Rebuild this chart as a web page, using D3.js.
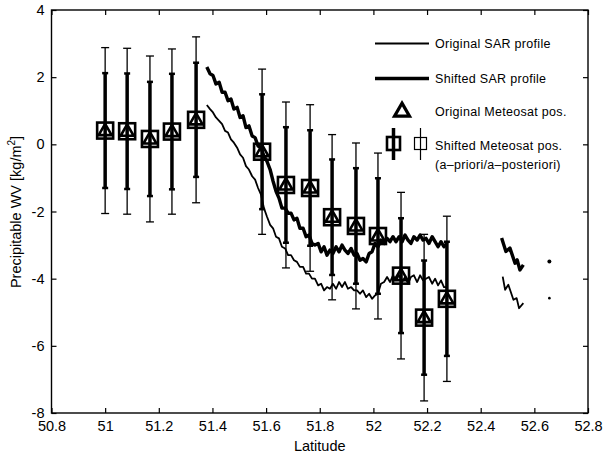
<!DOCTYPE html>
<html>
<head>
<meta charset="utf-8">
<script src="https://cdn.jsdelivr.net/npm/d3@7"></script>
<style>
  body { margin: 0; background: #fff; }
  svg { display: block; font-family: "Liberation Sans", Arial, sans-serif; }
</style>
</head>
<body>
<script>
// Meteosat positions with a-priori (thick) and a-posteriori (thin) error bars
const meteoLat = [51.0, 51.082, 51.167, 51.249, 51.339, 51.585, 51.674, 51.764, 51.846, 51.935, 52.017, 52.103, 52.189, 52.274];
const meteoValue = [0.41, 0.39, 0.16, 0.38, 0.73, -0.22, -1.21, -1.30, -2.17, -2.43, -2.73, -3.91, -5.16, -4.60];
const aPrioriErr = [1.71, 1.72, 1.70, 1.72, 1.70, 1.71, 1.72, 1.72, 1.72, 1.72, 1.72, 1.71, 1.70, 1.70];
const aPosterioriErr = [2.47, 2.47, 2.47, 2.46, 2.47, 2.46, 2.47, 2.48, 2.46, 2.47, 2.47, 2.48, 2.48, 2.46];

// SAR profiles (shared latitude grid)
const profileLat = [51.379, 51.391, 51.402, 51.413, 51.425, 51.436, 51.447, 51.458, 51.469, 51.480, 51.492,
  51.503, 51.514, 51.525, 51.536, 51.548, 51.559, 51.570, 51.581, 51.592, 51.603,
  51.615, 51.626, 51.637, 51.648, 51.659, 51.671, 51.682, 51.693, 51.704, 51.715,
  51.726, 51.738, 51.749, 51.760, 51.771, 51.782, 51.794, 51.805, 51.816, 51.827,
  51.838, 51.849, 51.861, 51.872, 51.883, 51.894, 51.905, 51.917, 51.928, 51.939,
  51.950, 51.961, 51.973, 51.984, 51.995, 52.006, 52.017, 52.028, 52.040, 52.051,
  52.062, 52.073, 52.084, 52.096, 52.107, 52.118, 52.129, 52.140, 52.151, 52.163,
  52.174, 52.185, 52.196, 52.207, 52.219, 52.230, 52.241, 52.252, 52.263, 52.275];
const originalSar = [1.17, 1.05, 0.95, 0.8, 0.7, 0.6, 0.4, 0.35, 0.15, 0.05, -0.1,
  -0.3, -0.4, -0.65, -0.75, -0.95, -1.05, -1.3, -1.5, -1.9, -2.15,
  -2.4, -2.5, -2.75, -2.8, -3.05, -3.1, -3.3, -3.3, -3.45, -3.5,
  -3.65, -3.65, -3.85, -3.85, -4.0, -4.0, -4.2, -4.15, -4.35, -4.25,
  -4.3, -4.15, -4.3, -4.1, -4.25, -4.1, -4.3, -4.25, -4.35, -4.35,
  -4.45, -4.35, -4.55, -4.45, -4.6, -4.5, -4.45, -4.15, -4.1, -3.95,
  -4.1, -3.9, -4.05, -3.9, -4.1, -3.95, -4.15, -3.95, -3.9, -4.1,
  -3.9, -4.05, -4.0, -3.95, -4.15, -4.0, -4.2, -4.05, -4.25, -4.25];
const shiftedSar = [2.30, 2.1, 2.05, 1.8, 1.85, 1.55, 1.55, 1.3, 1.35, 1.05, 1.1,
  0.8, 0.85, 0.5, 0.55, 0.25, 0.2, -0.05, -0.1, -0.35, -0.5,
  -0.75, -1.1, -1.4, -1.6, -1.9, -1.9, -2.05, -2.05, -2.25, -2.2,
  -2.5, -2.5, -2.75, -2.7, -2.95, -3.0, -2.95, -3.2, -3.05, -3.3,
  -3.15, -3.25, -3.05, -3.2, -3.0, -3.15, -3.25, -3.1, -3.3, -3.25,
  -3.45, -3.4, -3.5, -3.25, -3.2, -2.95, -3.05, -2.85, -2.95, -2.8,
  -2.9, -2.75, -2.9, -2.75, -2.9, -2.7, -2.85, -2.95, -2.75, -2.85,
  -2.7, -2.85, -2.8, -2.95, -2.75, -2.9, -3.05, -2.9, -3.05, -2.93];

// short profile pieces further north
const originalTailLat = [52.482, 52.491, 52.503, 52.522, 52.534, 52.543, 52.559];
const originalTail = [-3.94, -4.33, -4.18, -4.63, -4.58, -4.88, -4.73];
const shiftedTailLat = [52.478, 52.494, 52.509, 52.528, 52.536, 52.546, 52.559];
const shiftedTail = [-2.79, -3.19, -3.09, -3.54, -3.44, -3.74, -3.59];
const dotLat = [52.656, 52.656];
const dotValue = [-3.49, -4.58];
const dotThick = [true, false];

const xTicks = [50.8, 51, 51.2, 51.4, 51.6, 51.8, 52, 52.2, 52.4, 52.6, 52.8];
const yTicks = [-8, -6, -4, -2, 0, 2, 4];

const width = 606, height = 455;
const plot = { left: 51.5, right: 588, top: 10, bottom: 413 };
const fontSize = 14.5;

const svg = d3.select('body').append('svg').attr('width', width).attr('height', height);

const x = d3.scaleLinear().domain([50.8, 52.8]).range([plot.left, plot.right]);
const y = d3.scaleLinear().domain([-8, 4]).range([plot.bottom, plot.top]);

// axes, MATLAB style: ticks inside on all four sides
const fmt = (d) => String(+d.toFixed(1));
function styleAxis(g) {
    g.select('.domain').remove();
    g.selectAll('line').attr('stroke', '#000').attr('stroke-width', 1.2);
    g.selectAll('text').attr('fill', '#000').attr('font-size', fontSize);
}
svg.append('g').attr('transform', 'translate(0,' + plot.bottom + ')')
    .call(d3.axisBottom(x).tickValues(xTicks).tickSize(-5).tickPadding(8).tickFormat(fmt)).call(styleAxis);
svg.append('g').attr('transform', 'translate(0,' + plot.top + ')')
    .call(d3.axisTop(x).tickValues(xTicks).tickSize(-5).tickFormat('')).call(styleAxis);
svg.append('g').attr('transform', 'translate(' + plot.left + ',0)')
    .call(d3.axisLeft(y).tickValues(yTicks).tickSize(-5).tickPadding(7).tickFormat(fmt)).call(styleAxis);
svg.append('g').attr('transform', 'translate(' + plot.right + ',0)')
    .call(d3.axisRight(y).tickValues(yTicks).tickSize(-5).tickFormat('')).call(styleAxis);
svg.append('rect')
    .attr('x', plot.left).attr('y', plot.top)
    .attr('width', plot.right - plot.left).attr('height', plot.bottom - plot.top)
    .attr('fill', 'none').attr('stroke', '#000').attr('stroke-width', 1.4);

svg.append('text').attr('x', (plot.left + plot.right) / 2).attr('y', 451)
    .attr('text-anchor', 'middle').attr('font-size', fontSize).text('Latitude');
const ylab = svg.append('text').attr('transform', 'translate(21,212) rotate(-90)')
    .attr('text-anchor', 'middle').attr('font-size', fontSize);
ylab.append('tspan').text('Precipitable WV [kg/m');
ylab.append('tspan').attr('dy', -6).attr('font-size', 10).text('2');
ylab.append('tspan').attr('dy', 6).text(']');

// profiles
const line = d3.line().x((d) => x(d[0])).y((d) => y(d[1]));
const zip = (a, b) => a.map((d, i) => [d, b[i]]);
const profiles = [
    { pts: zip(profileLat, originalSar), w: 1.8 },
    { pts: zip(originalTailLat, originalTail), w: 1.8 },
    { pts: zip(profileLat, shiftedSar), w: 3.4 },
    { pts: zip(shiftedTailLat, shiftedTail), w: 3.4 },
];
svg.append('g').selectAll('path').data(profiles).join('path')
    .attr('d', (d) => line(d.pts))
    .attr('fill', 'none').attr('stroke', '#000')
    .attr('stroke-width', (d) => d.w).attr('stroke-linejoin', 'round');
svg.append('g').selectAll('circle').data(dotLat).join('circle')
    .attr('cx', (d) => x(d)).attr('cy', (d, i) => y(dotValue[i]))
    .attr('r', (d, i) => (dotThick[i] ? 2 : 1.3)).attr('fill', '#000');

// error bars and markers
const bars = meteoLat.map((lat, i) => ({ lat, v: meteoValue[i], e1: aPrioriErr[i], e2: aPosterioriErr[i] }));
const bar_g = svg.append('g').selectAll('g').data(bars).join('g')
    .attr('transform', (d) => 'translate(' + x(d.lat) + ',0)');
bar_g.append('line')
    .attr('y1', (d) => y(d.v + d.e2)).attr('y2', (d) => y(d.v - d.e2))
    .attr('stroke', '#000').attr('stroke-width', 1.3);
bar_g.selectAll('line.cap2').data((d) => [d.v + d.e2, d.v - d.e2]).join('line')
    .attr('class', 'cap2').attr('x1', -4).attr('x2', 4)
    .attr('y1', (d) => y(d)).attr('y2', (d) => y(d))
    .attr('stroke', '#000').attr('stroke-width', 1.3);
bar_g.append('line')
    .attr('y1', (d) => y(d.v + d.e1)).attr('y2', (d) => y(d.v - d.e1))
    .attr('stroke', '#000').attr('stroke-width', 3.5);
bar_g.selectAll('line.cap1').data((d) => [d.v + d.e1, d.v - d.e1]).join('line')
    .attr('class', 'cap1').attr('x1', -3).attr('x2', 3)
    .attr('y1', (d) => y(d)).attr('y2', (d) => y(d))
    .attr('stroke', '#000').attr('stroke-width', 2.5);
bar_g.append('rect')
    .attr('x', -8).attr('y', (d) => y(d.v) - 8).attr('width', 16).attr('height', 16)
    .attr('fill', 'none').attr('stroke', '#000').attr('stroke-width', 2.6);
const tri = (cx, cy, s) => {
    const h = s * 0.87;
    return 'M' + cx + ',' + (cy - h * 0.6) + 'L' + (cx + s / 2) + ',' + (cy + h * 0.4) + 'L' + (cx - s / 2) + ',' + (cy + h * 0.4) + 'Z';
};
bar_g.append('path')
    .attr('d', (d) => tri(0, y(d.v), 13))
    .attr('fill', 'none').attr('stroke', '#000').attr('stroke-width', 2.6).attr('stroke-linejoin', 'miter');

// legend
const legend = svg.append('g').attr('font-size', 12.5).attr('letter-spacing', 0.3);
legend.append('line').attr('x1', 375).attr('x2', 429).attr('y1', 43.5).attr('y2', 43.5)
    .attr('stroke', '#000').attr('stroke-width', 1.8);
legend.append('text').attr('x', 435).attr('y', 48).text('Original SAR profile');
legend.append('line').attr('x1', 375).attr('x2', 429).attr('y1', 78.5).attr('y2', 78.5)
    .attr('stroke', '#000').attr('stroke-width', 3.4);
legend.append('text').attr('x', 435).attr('y', 83).text('Shifted SAR profile');
legend.append('path').attr('d', tri(402, 111, 15))
    .attr('fill', 'none').attr('stroke', '#000').attr('stroke-width', 3.2);
legend.append('text').attr('x', 435).attr('y', 115.5).text('Original Meteosat pos.');
legend.append('line').attr('x1', 393.5).attr('x2', 393.5).attr('y1', 128).attr('y2', 160)
    .attr('stroke', '#000').attr('stroke-width', 3.5);
legend.append('rect').attr('x', 387).attr('y', 137).attr('width', 13).attr('height', 13)
    .attr('fill', 'none').attr('stroke', '#000').attr('stroke-width', 2.6);
legend.append('line').attr('x1', 420.5).attr('x2', 420.5).attr('y1', 128).attr('y2', 160)
    .attr('stroke', '#000').attr('stroke-width', 1.2);
legend.append('rect').attr('x', 414.5).attr('y', 137.5).attr('width', 12).attr('height', 12)
    .attr('fill', 'none').attr('stroke', '#000').attr('stroke-width', 1.2);
legend.append('text').attr('x', 435).attr('y', 150).text('Shifted Meteosat pos.');
legend.append('text').attr('x', 435).attr('y', 169).text('(a\u2013priori/a\u2013posteriori)');
</script>
</body>
</html>
